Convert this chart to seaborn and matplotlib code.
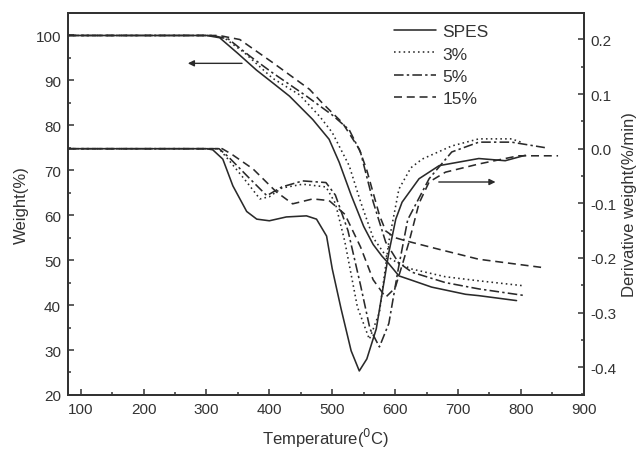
import matplotlib
matplotlib.use("Agg")
import matplotlib.pyplot as plt
import seaborn as sns
import pandas as pd
from matplotlib.ticker import MultipleLocator

sns.set_style("ticks")
plt.rcParams['font.family'] = ['Liberation Sans', 'DejaVu Sans']

# ---- TGA (left axis, weight %) ----
spes_tga_x = [80, 300, 321, 350, 379.5, 405, 432, 469, 495, 511, 530, 550, 565, 579, 590, 606, 627, 658, 712, 733, 793]
spes_tga_y = [100, 100, 99.5, 96, 92.3, 89.5, 86.5, 81.3, 76.9, 71.8, 64.5, 57.5, 53.5, 50.9, 49.2, 46.5, 45.5, 44, 42.4, 42.1, 41]
p3_tga_x = [80, 305, 330, 360, 405, 448, 480, 500, 527, 545, 565, 585, 605, 627, 680, 733, 804]
p3_tga_y = [100, 100, 99.3, 96.2, 90.5, 86.8, 82, 78.4, 71, 63, 55, 51, 49.3, 48, 46.3, 45.4, 44.3]
p5_tga_x = [80, 310, 335, 370, 405, 459, 500, 527, 545, 565, 585, 605, 627, 680, 733, 807]
p5_tga_y = [100, 100, 99.2, 95.3, 91.7, 86.5, 82.3, 79, 74, 63, 54, 49.5, 47.3, 45, 43.6, 42.1]
p15_tga_x = [80, 320, 353, 405, 464, 484, 516, 543, 555, 565, 575, 585, 600, 617, 670, 733, 832]
p15_tga_y = [100, 100, 99.1, 94, 88, 85, 80.6, 74.7, 70, 65, 60, 56.5, 55, 54.3, 52.4, 50.2, 48.4]

# ---- DTG (right axis, %/min) ----
spes_dtg_x = [80, 300, 310, 326, 342, 364, 380, 400, 427, 459, 475, 491, 500, 514, 530, 543, 555, 570, 590, 601, 611, 638, 670, 733, 775, 807]
spes_dtg_y = [0, 0, -0.002, -0.019, -0.068, -0.115, -0.129, -0.132, -0.125, -0.123, -0.129, -0.16, -0.22, -0.293, -0.37, -0.407, -0.385, -0.33, -0.19, -0.129, -0.098, -0.055, -0.031, -0.018, -0.022, -0.012]
p3_dtg_x = [80, 320, 335, 364, 385, 400, 420, 453, 490, 505, 520, 540, 559, 575, 590, 606, 625, 643, 690, 733, 785, 800]
p3_dtg_y = [0, 0, -0.02, -0.061, -0.092, -0.088, -0.072, -0.065, -0.07, -0.1, -0.17, -0.29, -0.349, -0.30, -0.17, -0.074, -0.035, -0.019, 0.005, 0.018, 0.018, 0.012]
p5_dtg_x = [80, 320, 335, 369, 396, 420, 453, 490, 505, 525, 545, 560, 575, 590, 605, 620, 654, 690, 733, 785, 838]
p5_dtg_y = [0, 0, -0.015, -0.055, -0.086, -0.07, -0.059, -0.062, -0.085, -0.15, -0.25, -0.33, -0.363, -0.32, -0.22, -0.13, -0.055, -0.006, 0.012, 0.012, 0.002]
p15_dtg_x = [80, 325, 340, 374, 411, 437, 469, 495, 520, 545, 565, 585, 600, 612, 622, 638, 654, 680, 733, 796, 859]
p15_dtg_y = [0, 0, -0.01, -0.037, -0.079, -0.101, -0.092, -0.095, -0.12, -0.18, -0.24, -0.272, -0.255, -0.21, -0.171, -0.10, -0.061, -0.043, -0.028, -0.013, -0.013]

labels = ["SPES", "3%", "5%", "15%"]
styles = ["-", (0, (1, 2)), (0, (6, 2, 1.5, 2)), (0, (5, 3))]
color = "#2a2a2a"

fig = plt.figure(figsize=(6.36, 4.52), dpi=100)
ax = fig.add_axes([0.107, 0.124, 0.811, 0.845])
ax2 = ax.twinx()

tga = [(spes_tga_x, spes_tga_y), (p3_tga_x, p3_tga_y), (p5_tga_x, p5_tga_y), (p15_tga_x, p15_tga_y)]
dtg = [(spes_dtg_x, spes_dtg_y), (p3_dtg_x, p3_dtg_y), (p5_dtg_x, p5_dtg_y), (p15_dtg_x, p15_dtg_y)]

handles = []
for (x, y), ls, lab in zip(tga, styles, labels):
    sns.lineplot(x=x, y=y, ax=ax, color=color, lw=1.15, sort=False, estimator=None)
    line = ax.lines[-1]
    line.set_linestyle(ls)
    line.set_label(lab)
    handles.append(line)
for (x, y), ls in zip(dtg, styles):
    sns.lineplot(x=x, y=y, ax=ax2, color=color, lw=1.15, sort=False, estimator=None)
    ax2.lines[-1].set_linestyle(ls)

ax.set_xlim(80, 900)
ax.set_ylim(20, 105)
ax2.set_ylim(-0.451, 0.2485)

ax.xaxis.set_major_locator(MultipleLocator(100))
ax.xaxis.set_minor_locator(MultipleLocator(50))
ax.yaxis.set_major_locator(MultipleLocator(10))
ax.yaxis.set_minor_locator(MultipleLocator(5))
ax2.yaxis.set_minor_locator(MultipleLocator(0.05))
ax2.set_yticks([0.2, 0.1, 0.0, -0.1, -0.2, -0.3, -0.4])
ax2.set_yticklabels(["0.2", "0.1", "0.0", "-0.1", "-0.2", "-0.3", "-0.4"])

for a in (ax, ax2):
    a.tick_params(which="both", direction="in", colors="#333333", labelcolor="#333333", labelsize=11, width=1.1)
    a.tick_params(which="major", length=4, pad=5)
    a.tick_params(which="minor", length=2.5)
    for s in a.spines.values():
        s.set_linewidth(1.4)
        s.set_color("#333333")
        s.set_visible(True)
ax.tick_params(axis="x", which="both", top=False)

ax.set_xlabel("Temperature($^{0}$C)", fontsize=12, color="#333333", labelpad=7)
ax.set_ylabel("Weight(%)", fontsize=12, color="#333333", labelpad=5)
ax2.set_ylabel("Derivative weight(%/min)", fontsize=12, color="#333333", labelpad=4)

# arrows
ax.annotate("", xy=(266, 93.8), xytext=(361, 93.8),
            arrowprops=dict(arrowstyle="-|>", color=color, lw=1.0, mutation_scale=9))
ax2.annotate("", xy=(764, -0.061), xytext=(665, -0.061),
             arrowprops=dict(arrowstyle="-|>", color=color, lw=1.0, mutation_scale=9))

leg = ax.legend(handles=handles, labels=labels, loc="upper left", bbox_to_anchor=(0.61, 1.0),
                frameon=False, fontsize=12.5, handlelength=2.4, handletextpad=0.4,
                labelspacing=0.4, borderaxespad=0.25)
for t in leg.get_texts():
    t.set_color("#333333")

fig.savefig("out.png", dpi=100)
